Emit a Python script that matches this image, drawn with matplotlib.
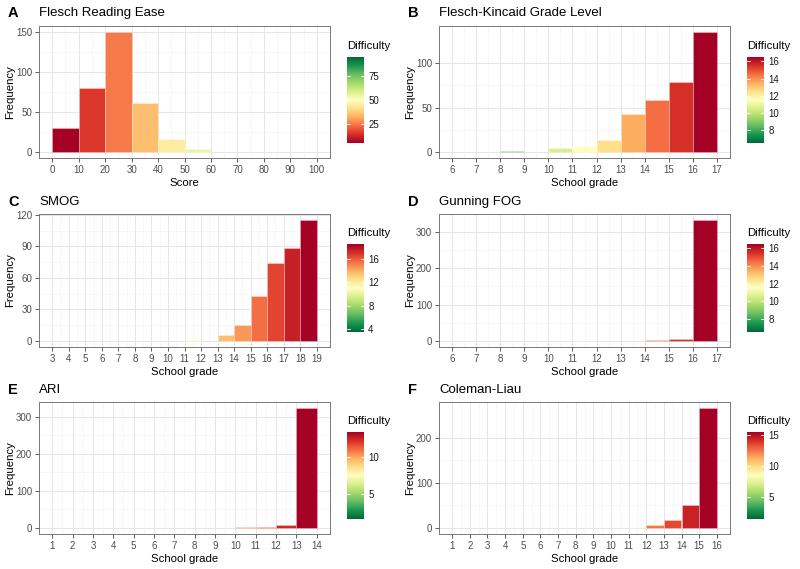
import numpy as np
import matplotlib
matplotlib.use("Agg")
import matplotlib.pyplot as plt
from matplotlib.colors import Normalize

plt.rcParams['font.family'] = ['Liberation Sans', 'DejaVu Sans']

# histogram counts per bin (bins start at *_start, width *_width)
fre_start, fre_width = 0, 10
fre_counts = [30, 80, 150, 61, 16, 4, 0, 0, 0, 0]

fk_start, fk_width = 6, 1
fk_counts = [0, 0, 1, 0, 4, 7, 14, 43, 59, 79, 135]

smog_start, smog_width = 3, 1
smog_counts = [0, 0, 0, 0, 0, 0, 0, 0, 1, 0, 6, 15, 43, 74, 88, 115]

fog_start, fog_width = 6, 1
fog_counts = [0, 0, 0, 0, 0, 1, 0, 0, 2, 6, 333]

ari_start, ari_width = 1, 1
ari_counts = [0, 0, 0, 0, 0, 0, 0, 0, 0, 2, 4, 8, 324]

cl_start, cl_width = 1, 1
cl_counts = [0, 0, 0, 0, 0, 0, 0, 0, 0, 0, 1, 7, 17, 50, 266]

titles = ["Flesch Reading Ease", "Flesch-Kincaid Grade Level", "SMOG",
          "Gunning FOG", "ARI", "Coleman-Liau"]
letters = ["A", "B", "C", "D", "E", "F"]

W, H = 800, 569
fig = plt.figure(figsize=(W / 100, H / 100), dpi=100)

TOPS = [26, 214, 402]
BOTS = [158, 347, 534]
CB_Y = [(57, 143), (244, 332), (432, 519)]
TITLE_Y = [13, 202, 390]


def px_axes(l, t, r, b):
    return fig.add_axes([l / W, 1 - b / H, (r - l) / W, (b - t) / H])


def panel(idx, start, width, counts, xlabel, xticks, yticks, cbticks, reverse):
    col, row = idx % 2, idx // 2
    left, right = 39 + 400 * col, 330 + 400 * col
    top, bot = TOPS[row], BOTS[row]
    ax = px_axes(left, top, right, bot)

    counts = np.array(counts)
    edges = start + width * np.arange(len(counts))
    centers = edges + width / 2
    norm = Normalize(centers.min(), centers.max())
    cmap = plt.get_cmap('RdYlGn_r' if reverse else 'RdYlGn')
    nz = counts > 0
    ax.bar(edges[nz], counts[nz], width=width, align='edge',
           color=cmap(norm(centers[nz])),
           edgecolor=(1, 1, 1, 0.5), linewidth=0.4, zorder=2)

    x0, x1 = edges[0], edges[-1] + width
    pad = 0.05 * (x1 - x0)
    ax.set_xlim(x0 - pad, x1 + pad)
    ymax = counts.max()
    ax.set_ylim(-0.05 * ymax, 1.05 * ymax)

    ax.set_xticks(xticks)
    ax.set_yticks(yticks)
    xt = np.array(xticks, dtype=float)
    yt = np.array(yticks, dtype=float)
    ax.set_xticks((xt[:-1] + xt[1:]) / 2, minor=True)
    ax.set_yticks((yt[:-1] + yt[1:]) / 2, minor=True)
    ax.grid(which='major', color='#E6E6E6', lw=0.7, zorder=0)
    ax.grid(which='minor', color='#EFEFEF', lw=0.4, zorder=0)
    ax.set_axisbelow(True)
    ax.tick_params(which='major', length=3, width=0.6, color='#444444',
                   labelsize=7, labelcolor='#4D4D4D', pad=2)
    ax.tick_params(which='minor', length=0)
    for s in ax.spines.values():
        s.set_color('#777777')
        s.set_linewidth(0.7)

    ax.set_ylabel('Frequency', fontsize=8.2)
    ax.yaxis.set_label_coords((15 + 400 * col - left) / (right - left), 0.5)
    ax.set_xlabel(xlabel, fontsize=8.2)
    ax.xaxis.set_label_coords(0.5, -0.15)

    fig.text((8 + 400 * col) / W, 1 - TITLE_Y[row] / H, letters[idx],
             fontsize=10.5, weight='bold', va='center')
    fig.text(left / W, 1 - TITLE_Y[row] / H, titles[idx], fontsize=9.5,
             va='center')

    # colour bar legend
    cl, cr = 347 + 400 * col, 364 + 400 * col
    ct, cb = CB_Y[row]
    cax = px_axes(cl, ct, cr, cb)
    vmin, vmax = norm.vmin, norm.vmax
    grad = np.linspace(vmin, vmax, 256)[:, None]
    cax.imshow(grad, aspect='auto', cmap=cmap, norm=norm, origin='lower',
               extent=[0, 1, vmin, vmax])
    cax.set_xlim(0, 1)
    cax.set_ylim(vmin, vmax)
    for t in cbticks:
        cax.plot([0, 0.2], [t, t], color='white', lw=0.6)
        cax.plot([0.8, 1], [t, t], color='white', lw=0.6)
    cax.set_xticks([])
    cax.yaxis.tick_right()
    cax.set_yticks(cbticks)
    cax.tick_params(length=0, labelsize=7, labelcolor='#1A1A1A', pad=3)
    for s in cax.spines.values():
        s.set_visible(False)
    fig.text(cl / W, 1 - (ct - 11) / H, 'Difficulty', fontsize=8.2, va='center')


panel(0, fre_start, fre_width, fre_counts, 'Score', list(range(0, 101, 10)),
      [0, 50, 100, 150], [25, 50, 75], False)
panel(1, fk_start, fk_width, fk_counts, 'School grade', list(range(6, 18)),
      [0, 50, 100], [8, 10, 12, 14, 16], True)
panel(2, smog_start, smog_width, smog_counts, 'School grade', list(range(3, 20)),
      [0, 30, 60, 90, 120], [4, 8, 12, 16], True)
panel(3, fog_start, fog_width, fog_counts, 'School grade', list(range(6, 18)),
      [0, 100, 200, 300], [8, 10, 12, 14, 16], True)
panel(4, ari_start, ari_width, ari_counts, 'School grade', list(range(1, 15)),
      [0, 100, 200, 300], [5, 10], True)
panel(5, cl_start, cl_width, cl_counts, 'School grade', list(range(1, 17)),
      [0, 100, 200], [5, 10, 15], True)

fig.savefig('out.png', dpi=100)
